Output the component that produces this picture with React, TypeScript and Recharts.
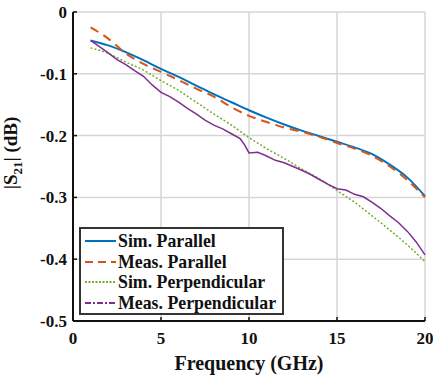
import { LineChart, Line, XAxis, YAxis, CartesianGrid } from 'recharts';

const FREQ = [1, 2, 3, 4, 5, 6, 7, 8, 9, 10, 11, 12, 13, 14, 15, 16, 17, 18, 19, 20];
const SIM_PARALLEL = [-0.046, -0.054, -0.065, -0.078, -0.092, -0.105, -0.119, -0.133, -0.146, -0.159, -0.171, -0.182, -0.192, -0.201, -0.21, -0.219, -0.23, -0.247, -0.268, -0.298];
const MEAS_PARALLEL = [-0.025, -0.043, -0.067, -0.084, -0.097, -0.11, -0.124, -0.137, -0.154, -0.168, -0.178, -0.187, -0.194, -0.202, -0.212, -0.221, -0.233, -0.25, -0.272, -0.3];
const SIM_PERP = [-0.058, -0.067, -0.081, -0.094, -0.111, -0.127, -0.146, -0.165, -0.183, -0.203, -0.221, -0.237, -0.254, -0.27, -0.289, -0.308, -0.33, -0.353, -0.377, -0.404];

const FREQ_MEAS_PERP = [1, 1.5, 2, 2.5, 3, 3.5, 4, 4.5, 5, 5.5, 6, 6.5, 7, 7.5, 8, 8.5, 9, 9.5, 9.75, 10, 10.5, 11, 11.5, 12, 12.5, 13, 13.5, 14, 14.5, 15, 15.5, 16, 16.5, 17, 17.5, 18, 18.5, 19, 19.5, 20];
const MEAS_PERP = [-0.046, -0.056, -0.066, -0.077, -0.085, -0.095, -0.104, -0.118, -0.13, -0.137, -0.146, -0.156, -0.165, -0.175, -0.183, -0.189, -0.197, -0.205, -0.215, -0.228, -0.227, -0.233, -0.24, -0.244, -0.25, -0.256, -0.263, -0.271, -0.279, -0.286, -0.288, -0.295, -0.299, -0.308, -0.318, -0.33, -0.341, -0.355, -0.372, -0.393];

const X_TICKS = [0, 5, 10, 15, 20];
const Y_TICKS = [0, -0.1, -0.2, -0.3, -0.4, -0.5];

const FONT = '"Liberation Serif", "Times New Roman", serif';

const toPoints = (xs: number[], ys: number[]) => xs.map((f, i) => ({ f, v: ys[i] }));

const SERIES = [
    { name: 'Sim. Parallel', data: toPoints(FREQ, SIM_PARALLEL), color: '#0072BD', dash: undefined, legendDash: undefined, width: 2, type: 'monotone' },
    { name: 'Meas. Parallel', data: toPoints(FREQ, MEAS_PARALLEL), color: '#D95319', dash: '9 6', legendDash: '8 5', width: 2, type: 'monotone' },
    { name: 'Sim. Perpendicular', data: toPoints(FREQ, SIM_PERP), color: '#77AC30', dash: '2 2', legendDash: '2 1.5', width: 1.5, type: 'monotone' },
    { name: 'Meas. Perpendicular', data: toPoints(FREQ_MEAS_PERP, MEAS_PERP), color: '#7E2F8E', dash: undefined, legendDash: '6 2 2 2', width: 1.5, type: 'linear' },
];

function LegendBox() {
    return (
        <div style={{ position: 'absolute', left: 79, top: 227, width: 195, height: 82, border: '2px solid #333', background: '#fff', padding: '2px 3px 0 3px', fontFamily: FONT, fontWeight: 'bold', fontSize: 17.8, lineHeight: '20.5px', color: '#111' }}>
            {SERIES.map((s) => (
                <div key={s.name} style={{ display: 'flex', alignItems: 'center', whiteSpace: 'nowrap' }}>
                    <svg width={33} height={10} style={{ marginRight: 1 }}>
                        <line x1={1} y1={5} x2={32} y2={5} stroke={s.color} strokeWidth={2} strokeDasharray={s.legendDash} />
                    </svg>
                    <span>{s.name}</span>
                </div>
            ))}
        </div>
    );
}

function YLabel() {
    return (
        <text x={17} y={153} transform="rotate(-90 17 153)" textAnchor="middle" fontFamily={FONT} fontWeight="bold" fontSize={19} fill="#111">
            |S<tspan fontSize={13} dy={5}>21</tspan><tspan dy={-5}>| (dB)</tspan>
        </text>
    );
}

function XTick({ x, payload }: any) {
    return (
        <text x={x} y={344} textAnchor="middle" fontFamily={FONT} fontWeight="bold" fontSize={17} fill="#111">
            {payload.value}
        </text>
    );
}

function YTick({ y, payload }: any) {
    return (
        <text x={67} y={y + 6} textAnchor="end" fontFamily={FONT} fontWeight="bold" fontSize={17} fill="#111">
            {payload.value}
        </text>
    );
}

const AXIS_LINE = { stroke: '#111', strokeWidth: 2 };
const TICK_LINE = { stroke: '#111', strokeWidth: 1.5 };

export default function App() {
    return (
        <div style={{ position: 'absolute', left: 0, top: 0, width: 433, height: 376, background: '#fff' }}>
            <LineChart width={433} height={376} margin={{ top: 12, right: 8, bottom: 0, left: 0 }}>
                <CartesianGrid stroke="#d6d6d6" strokeWidth={1.5} horizontalValues={Y_TICKS} verticalValues={X_TICKS} />
                <XAxis
                    type="number"
                    dataKey="f"
                    domain={[0, 20]}
                    ticks={X_TICKS}
                    allowDuplicatedCategory={false}
                    tick={<XTick />}
                    tickLine={TICK_LINE}
                    tickSize={-4}
                    axisLine={AXIS_LINE}
                    height={55}
                    label={{ value: 'Frequency (GHz)', position: 'insideBottom', offset: 6, style: { fontFamily: FONT, fontWeight: 'bold', fontSize: 20, fill: '#111' } }}
                />
                <XAxis xAxisId="top" orientation="top" type="number" domain={[0, 20]} ticks={X_TICKS} tick={<g />} tickLine={TICK_LINE} tickSize={-4} axisLine={AXIS_LINE} height={0} />
                <YAxis
                    type="number"
                    domain={[-0.5, 0]}
                    ticks={Y_TICKS}
                    tick={<YTick />}
                    tickLine={TICK_LINE}
                    tickSize={-4}
                    axisLine={AXIS_LINE}
                    width={73}
                    label={<YLabel />}
                />
                <YAxis yAxisId="right" orientation="right" type="number" domain={[-0.5, 0]} ticks={Y_TICKS} tick={<g />} tickLine={TICK_LINE} tickSize={-4} axisLine={AXIS_LINE} width={0} />
                {SERIES.map((s) => (
                    <Line
                        key={s.name}
                        data={s.data}
                        dataKey="v"
                        name={s.name}
                        type={s.type as 'monotone' | 'linear'}
                        stroke={s.color}
                        strokeWidth={s.width}
                        strokeDasharray={s.dash}
                        dot={false}
                        isAnimationActive={false}
                    />
                ))}
            </LineChart>
            <LegendBox />
        </div>
    );
}
